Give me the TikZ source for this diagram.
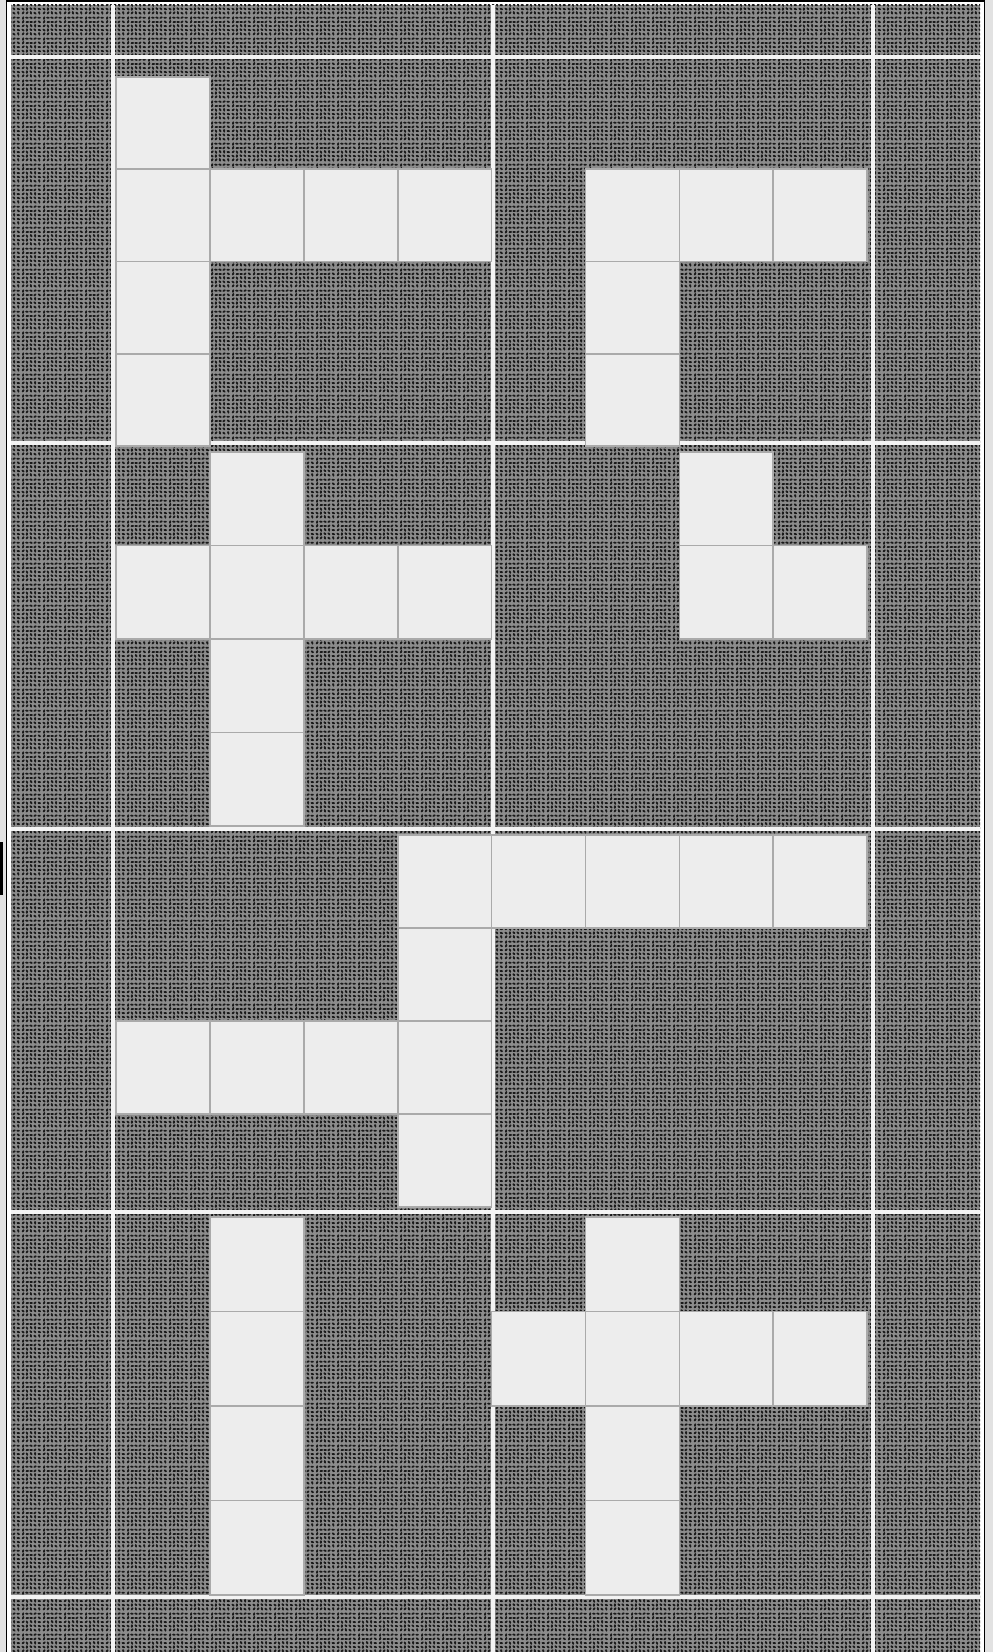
\documentclass[tikz,border=0pt]{standalone}
\usepackage{tikz}
\usetikzlibrary{patterns.meta}
\usepackage{xcolor}
\definecolor{pentbg}{RGB}{140,140,140}
\definecolor{pentdot}{RGB}{25,25,25}
\definecolor{pentcell}{RGB}{237,237,237}
\definecolor{pentedge}{RGB}{170,170,170}
\definecolor{pentline}{RGB}{243,243,243}
\definecolor{pentmargin}{RGB}{226,226,226}
\tikzdeclarepattern{
  name=stipple,
  type=uncolored,
  bounding box={(0pt,0pt) and (12pt,12pt)},
  tile size={(12pt,12pt)},
  code={
    \pgfmathsetseed{4242}
    \foreach \i in {0,...,4}
      \foreach \j in {0,...,4}{
        \pgfmathsetmacro\sx{1.2+2.4*\i+0.15*rand}
        \pgfmathsetmacro\sy{1.2+2.4*\j+0.15*rand}
        \pgfmathsetmacro\sa{180*rnd}
        \draw[line width=1.1pt,line cap=round]
          ([shift={(\sa:-0.5pt)}]\sx pt,\sy pt) -- ++(\sa:1pt);
      }
  }
}

\begin{document}
\begin{tikzpicture}[x=0.02cm,y=-0.02cm,
    gridline/.style={pentline,line width=2.6pt},
    cellbox/.style={draw=pentedge,fill=pentcell,line width=1pt}]
  \useasboundingbox (0,0) rectangle (993,1652);
  \fill[pentmargin] (0,0) rectangle (993,1652);
  \fill[white] (7,2) rectangle (984,1652);
  \draw[black,line width=0.9pt] (6.5,1700) -- (6.5,1) -- (984.5,1) -- (984.5,1700);
  \fill[black] (0,842) rectangle (2.5,895);
  \fill[pentbg] (11,5) rectangle (980,1652);
  \fill[pattern=stipple,pattern color=pentdot] (11,5) rectangle (980,1652);
  % white rulings
  \foreach \x in {113,493,873}
    \draw[gridline] (\x,5) -- (\x,1652);
  \foreach \y in {57,443,829,1212,1597}
    \draw[gridline] (11,\y) -- (980,\y);
  % pieces, band by band: top of band / row height / col/row of each square
  \foreach \ytop/\dy/\cells in {
      77/92.3/{0/0,0/1,0/2,0/3,1/1,2/1,3/1,5/1,6/1,7/1,5/2,5/3},
      452/93.5/{1/0,1/1,1/2,1/3,0/1,2/1,3/1,6/0,6/1,7/1},
      835/93/{3/0,3/1,3/2,3/3,4/0,5/0,6/0,7/0,0/2,1/2,2/2},
      1217/94.5/{1/0,1/1,1/2,1/3,5/0,5/1,5/2,5/3,4/1,6/1,7/1}}
    \foreach \c/\r in \cells
      \draw[cellbox] ({116+93.9*\c},{\ytop+\dy*\r}) rectangle ++(93.9,\dy);
\end{tikzpicture}
\end{document}
